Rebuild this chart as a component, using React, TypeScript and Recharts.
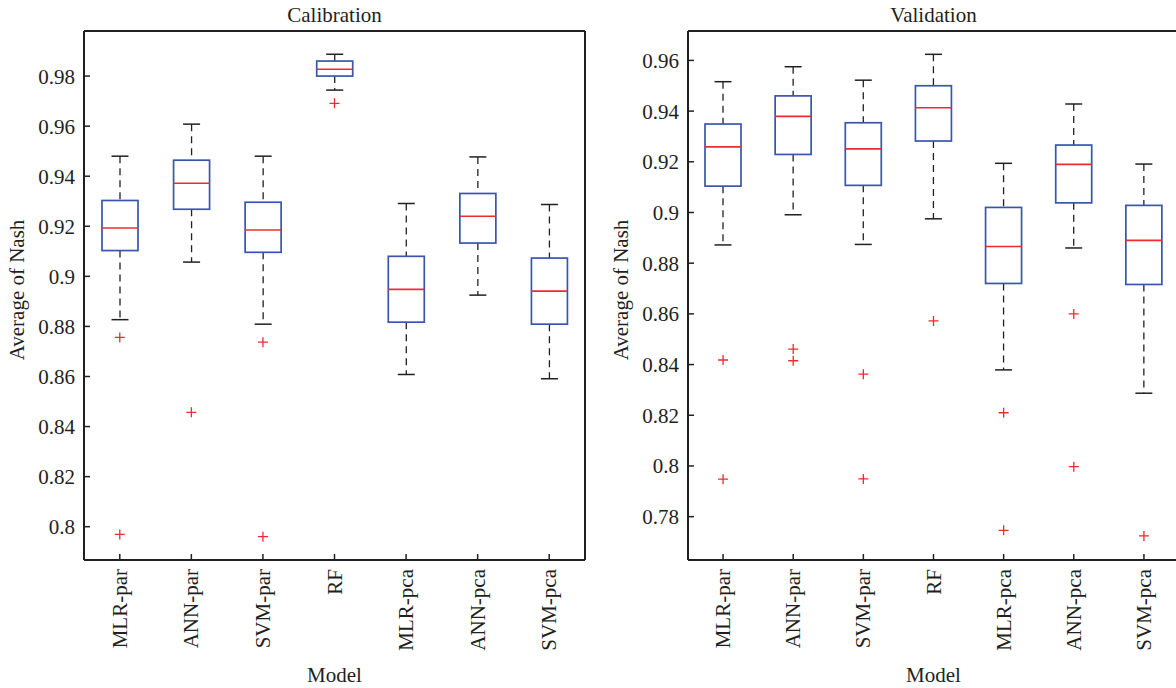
import { ComposedChart, Bar, Scatter, XAxis, YAxis } from 'recharts'

const MODELS = ['MLR-par', 'ANN-par', 'SVM-par', 'RF', 'MLR-pca', 'ANN-pca', 'SVM-pca']

// Calibration box stats
const CAL_LO = [0.8827, 0.9057, 0.8809, 0.9744, 0.8608, 0.8925, 0.8591]
const CAL_Q1 = [0.9103, 0.9268, 0.9096, 0.98, 0.8817, 0.9133, 0.8809]
const CAL_MED = [0.9193, 0.9372, 0.9185, 0.9827, 0.8948, 0.924, 0.8941]
const CAL_Q3 = [0.9303, 0.9464, 0.9296, 0.986, 0.908, 0.9331, 0.9073]
const CAL_HI = [0.948, 0.9608, 0.948, 0.9887, 0.9291, 0.9477, 0.9287]
const CAL_OUT_MODEL = ['MLR-par', 'MLR-par', 'ANN-par', 'SVM-par', 'SVM-par', 'RF']
const CAL_OUT_VALUE = [0.8756, 0.7969, 0.8457, 0.8737, 0.796, 0.9691]
const CAL_TICKS = [0.8, 0.82, 0.84, 0.86, 0.88, 0.9, 0.92, 0.94, 0.96, 0.98]
const CAL_DOMAIN = [0.7867, 0.998]

// Validation box stats
const VAL_LO = [0.8872, 0.8991, 0.8874, 0.8975, 0.8379, 0.886, 0.8287]
const VAL_Q1 = [0.9104, 0.9229, 0.9107, 0.9282, 0.872, 0.9038, 0.8716]
const VAL_MED = [0.9259, 0.9379, 0.9251, 0.9413, 0.8866, 0.919, 0.889]
const VAL_Q3 = [0.9349, 0.946, 0.9354, 0.95, 0.902, 0.9266, 0.9028]
const VAL_HI = [0.9516, 0.9575, 0.9522, 0.9624, 0.9194, 0.9428, 0.9191]
const VAL_OUT_MODEL = ['MLR-par', 'MLR-par', 'ANN-par', 'ANN-par', 'SVM-par', 'SVM-par', 'RF', 'MLR-pca', 'MLR-pca', 'ANN-pca', 'ANN-pca', 'SVM-pca']
const VAL_OUT_VALUE = [0.8418, 0.7948, 0.8461, 0.8415, 0.8362, 0.7949, 0.8572, 0.821, 0.7746, 0.86, 0.7997, 0.7724]
const VAL_TICKS = [0.78, 0.8, 0.82, 0.84, 0.86, 0.88, 0.9, 0.92, 0.94, 0.96]
const VAL_DOMAIN = [0.7629, 0.9716]

const TEXT = '#231f20'
const BLUE = '#3a55ad'
const RED = '#ee2b2e'
const FONT = '"Liberation Serif", "Times New Roman", serif'
const FS = 21

const rows = (lo, q1, med, q3, hi) =>
  MODELS.map((model, i) => ({ model, lo: lo[i], q1: q1[i], med: med[i], q3: q3[i], hi: hi[i] }))

const outs = (m, v) => m.map((model, i) => ({ model, v: v[i] }))

const BoxShape = (props: any) => {
  const { x, y, width, height, payload } = props
  const { lo, q1, med, q3, hi } = payload
  // bar spans lo..hi, so map the other stats linearly inside it
  const py = (v: number) => y + (height * (hi - v)) / (hi - lo)
  const cx = x + width / 2
  const cap = 8.5
  return (
    <g>
      <line x1={cx} x2={cx} y1={py(hi)} y2={py(q3)} stroke={TEXT} strokeWidth={1.3} strokeDasharray="7 5" />
      <line x1={cx} x2={cx} y1={py(q1)} y2={py(lo)} stroke={TEXT} strokeWidth={1.3} strokeDasharray="7 5" />
      <line x1={cx - cap} x2={cx + cap} y1={py(hi)} y2={py(hi)} stroke={TEXT} strokeWidth={1.5} />
      <line x1={cx - cap} x2={cx + cap} y1={py(lo)} y2={py(lo)} stroke={TEXT} strokeWidth={1.5} />
      <rect x={x} y={py(q3)} width={width} height={py(q1) - py(q3)} fill="none" stroke={BLUE} strokeWidth={1.7} />
      <line x1={x} x2={x + width} y1={py(med)} y2={py(med)} stroke={RED} strokeWidth={1.6} />
    </g>
  )
}

const Plus = (props: any) => {
  const { cx, cy } = props
  return <path d={`M${cx - 5},${cy}H${cx + 5}M${cx},${cy - 5}V${cy + 5}`} stroke={RED} strokeWidth={1.3} fill="none" />
}

const XTick = (props: any) => {
  const { x, y, payload } = props
  return (
    <text x={x} y={y} transform={`rotate(-90 ${x} ${y})`} textAnchor="end" dy="0.34em" fill={TEXT} fontSize={FS} fontFamily={FONT}>
      {payload.value}
    </text>
  )
}

function Panel({ data, outliers, ticks, domain, margin }) {
  const axisLine = { stroke: TEXT, strokeWidth: 2 }
  const tickLine = { stroke: TEXT, strokeWidth: 1.5 }
  return (
    <ComposedChart width={600} height={688} data={data} margin={margin}>
      <XAxis xAxisId="bottom" dataKey="model" type="category" allowDuplicatedCategory={false} interval={0}
        height={100} tickSize={-6} tickMargin={15} axisLine={axisLine} tickLine={tickLine} tick={<XTick />} />
      <XAxis xAxisId="top" orientation="top" dataKey="model" type="category" allowDuplicatedCategory={false} interval={0}
        height={1} tickSize={-6} tick={false} axisLine={axisLine} tickLine={tickLine} />
      <YAxis yAxisId="left" type="number" domain={domain} ticks={ticks} allowDataOverflow interval={0}
        width={60} tickSize={-6} tickMargin={15} axisLine={axisLine} tickLine={tickLine}
        tick={{ fill: TEXT, fontSize: FS, fontFamily: FONT }} />
      <YAxis yAxisId="right" orientation="right" type="number" domain={domain} ticks={ticks} allowDataOverflow interval={0}
        width={1} tickSize={-6} tick={false} axisLine={axisLine} tickLine={tickLine} />
      <Bar xAxisId="bottom" yAxisId="left" dataKey={(d: any) => [d.lo, d.hi]} barSize={36}
        shape={<BoxShape />} isAnimationActive={false} />
      <Scatter xAxisId="bottom" yAxisId="left" data={outliers} dataKey="v" shape={<Plus />} isAnimationActive={false} />
    </ComposedChart>
  )
}

export default function App() {
  const calRows = rows(CAL_LO, CAL_Q1, CAL_MED, CAL_Q3, CAL_HI)
  const valRows = rows(VAL_LO, VAL_Q1, VAL_MED, VAL_Q3, VAL_HI)
  const label = { fill: TEXT, fontSize: FS, fontFamily: FONT, textAnchor: 'middle' as const }
  return (
    <div style={{ position: 'absolute', left: 0, top: 0, width: 1176, height: 688, overflow: 'hidden', background: '#fff' }}>
      <div style={{ position: 'absolute', left: 0, top: 0 }}>
        <Panel data={calRows} outliers={outs(CAL_OUT_MODEL, CAL_OUT_VALUE)} ticks={CAL_TICKS} domain={CAL_DOMAIN}
          margin={{ top: 30, right: 14, left: 24, bottom: 28 }} />
      </div>
      <div style={{ position: 'absolute', left: 600, top: 0 }}>
        <Panel data={valRows} outliers={outs(VAL_OUT_MODEL, VAL_OUT_VALUE)} ticks={VAL_TICKS} domain={VAL_DOMAIN}
          margin={{ top: 30, right: 20, left: 28, bottom: 28 }} />
      </div>
      <svg width={1176} height={688} style={{ position: 'absolute', left: 0, top: 0, pointerEvents: 'none' }}>
        <text x={334.5} y={22} {...label}>Calibration</text>
        <text x={334.5} y={682} {...label}>Model</text>
        <text x={17} y={290} dy="0.34em" transform="rotate(-90 17 290)" {...label}>Average of Nash</text>
        <text x={933.5} y={22} {...label}>Validation</text>
        <text x={933.5} y={682} {...label}>Model</text>
        <text x={621} y={290} dy="0.34em" transform="rotate(-90 621 290)" {...label}>Average of Nash</text>
      </svg>
    </div>
  )
}
